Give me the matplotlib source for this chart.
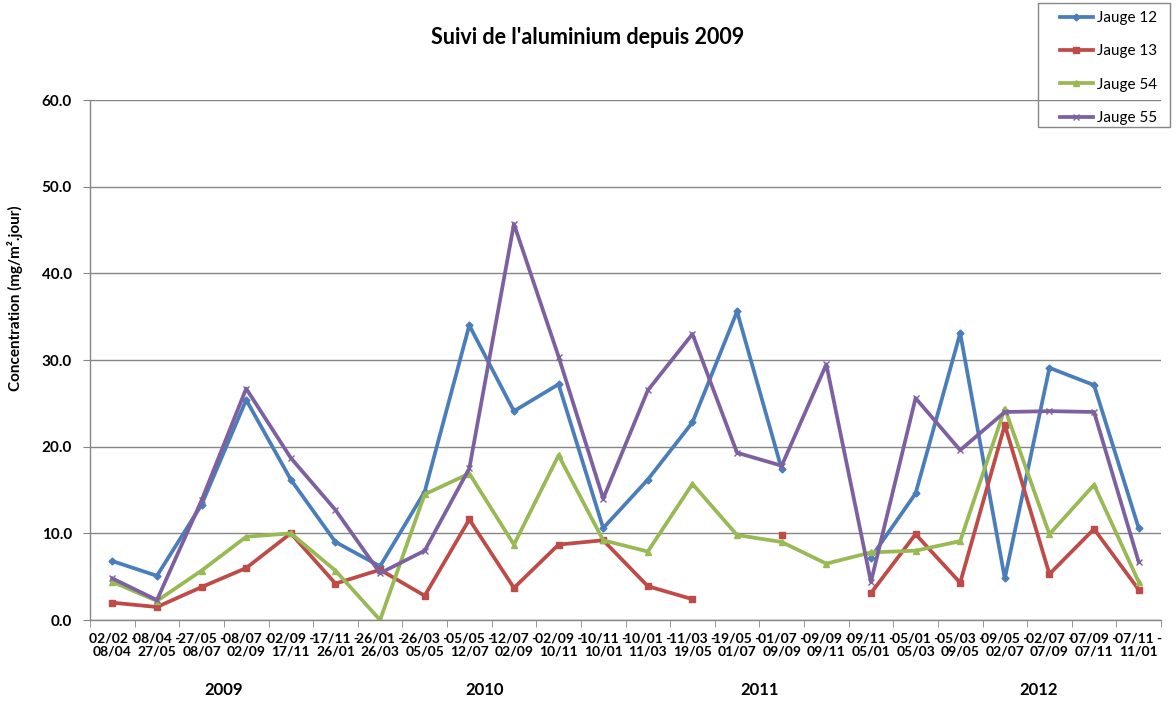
import numpy as np
import matplotlib
matplotlib.use('Agg')
import matplotlib.pyplot as plt
from matplotlib.patches import Rectangle

plt.rcParams['font.family']=['Lato','DejaVu Sans']

dates=['02/02','08/04','27/05','08/07','02/09','17/11','26/01','26/03','05/05','12/07','02/09','10/11',
       '10/01','11/03','19/05','01/07','09/09','09/11','05/01','05/03','09/05','02/07','07/09','07/11','11/01']
periods=[dates[i]+' -\n'+dates[i+1] for i in range(len(dates)-1)]
years=['2009','2010','2011','2012']
year_pos=[2.5,8.35,14.5,20.75]

nan=np.nan
jauge12=[6.8,5.1,13.3,25.4,16.2,9.0,6.2,14.8,34.0,24.1,27.2,10.6,16.2,22.8,35.6,17.4,nan,7.2,14.6,33.1,4.8,29.1,27.1,10.6]
jauge13=[2.0,1.5,3.8,6.0,10.0,4.2,5.8,2.8,11.6,3.7,8.7,9.2,3.9,2.4,nan,9.8,nan,3.1,9.9,4.3,22.5,5.3,10.5,3.5]
jauge54=[4.4,2.2,5.7,9.6,10.0,5.7,0.0,14.5,16.9,8.7,19.0,9.2,7.9,15.7,9.8,9.0,6.5,7.8,8.0,9.1,24.4,9.9,15.6,4.4]
jauge55=[4.8,2.3,13.8,26.7,18.7,12.7,5.4,8.0,17.5,45.7,30.4,14.0,26.5,33.0,19.3,17.8,29.5,4.4,25.6,19.6,24.0,24.1,24.0,6.7]

series=[('Jauge 12',jauge12,'#4A7EBB','D',3.5),
        ('Jauge 13',jauge13,'#BE4B48','s',5),
        ('Jauge 54',jauge54,'#98B954','^',4.5),
        ('Jauge 55',jauge55,'#7D60A0','x',4.5)]

fig=plt.figure(figsize=(11.76,7.02),dpi=100)
ax=fig.add_axes([90/1176,1-620/702,1071/1176,520/702])

X=np.arange(len(periods))
for label,vals,col,mk,ms in series:
    ax.plot(X,vals,color=col,linewidth=2.7,marker=mk,markersize=ms,markeredgewidth=1.0,label=label)

ax.set_xlim(-0.5,len(periods)-0.5)
ax.set_ylim(0,60)
ax.set_yticks(np.arange(0,61,10))
ax.set_yticklabels(['%.1f'%v for v in np.arange(0,61,10)],fontsize=11,fontweight='bold')
ax.set_xticks(X)
ax.set_xticklabels(periods,fontsize=10,fontweight='bold',linespacing=1.1)
ax.set_xticks(np.arange(-0.5,len(periods)),minor=True)
ax.tick_params(axis='x',which='major',length=0,pad=9)
ax.tick_params(axis='x',which='minor',length=5,color='#868686')
ax.tick_params(axis='y',length=5,color='#868686',pad=8)
ax.grid(axis='y',color='#868686',linewidth=1)
ax.set_axisbelow(True)
for s in ['top','right']:
    ax.spines[s].set_visible(False)
for s in ['left','bottom']:
    ax.spines[s].set_color('#868686')
    ax.spines[s].set_linewidth(1)

for y,p in zip(years,year_pos):
    ax.text(p,-8.1,y,ha='center',va='center',fontsize=12,fontweight='bold')

fig.text(15/1176,1-298/702,'Concentration (mg/m².jour)',rotation=90,ha='center',va='center',fontsize=11,fontweight='bold')
fig.text(588/1176,1-37/702,"Suivi de l'aluminium depuis 2009",ha='center',va='center',fontsize=15.5,fontweight='bold')

fig.patches.append(Rectangle((1038/1176,1-127/702),132/1176,124/702,transform=fig.transFigure,
                             fill=False,edgecolor='#868686',linewidth=1))
leg=fig.legend(loc='upper left',bbox_to_anchor=(1060/1176,1-11/702),fontsize=11,frameon=False,
               handlelength=2.15,handletextpad=0.27,labelspacing=1.27,borderpad=0,borderaxespad=0)

plt.savefig('out.png',dpi=100)
